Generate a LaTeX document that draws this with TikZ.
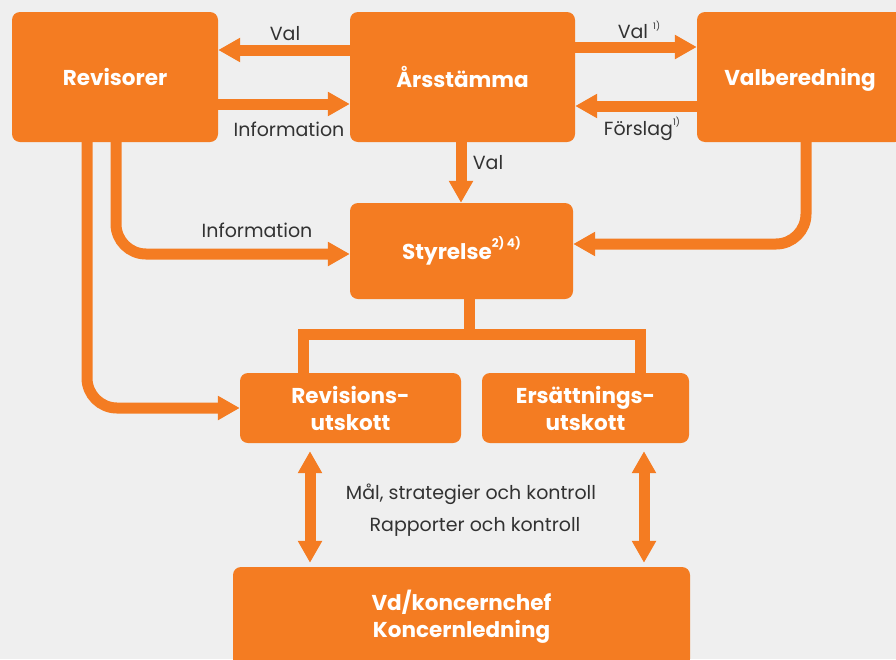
\documentclass[tikz,border=0pt]{standalone}
\usepackage{fontspec}
\setmainfont{Poppins}
\usetikzlibrary{arrows.meta}
\definecolor{org}{RGB}{244,124,34}
\definecolor{bgc}{RGB}{239,239,239}
\definecolor{txt}{RGB}{50,50,50}
\tikzset{
  box/.style={fill=org, rounded corners=8pt, inner sep=0pt, align=center,
    text=white, font=\fontsize{21.5}{27}\selectfont\bfseries},
  lbl/.style={text=txt, font=\fontsize{19}{22}\selectfont, inner sep=0pt},
  arr/.style={draw=org, line width=11pt, -{Triangle[width=23pt,length=22pt]}},
  darr/.style={draw=org, line width=11pt, {Triangle[width=23pt,length=22pt]}-{Triangle[width=23pt,length=22pt]}},
  ln/.style={draw=org, line width=11pt}
}
\begin{document}
\begin{tikzpicture}[x=1pt,y=-1pt]
\fill[bgc] (0,0) rectangle (896,659);
\useasboundingbox (0,0) rectangle (896,659);
\clip (0,0) rectangle (896,659);
% boxes
\node[box, minimum width=206pt, minimum height=130pt] (rev) at (115,77) {Revisorer};
\node[box, minimum width=225pt, minimum height=130pt] (ars) at (462.5,77) {Årsstämma};
\node[box, minimum width=206pt, minimum height=130pt] (val) at (800,77) {\raisebox{0pt}[\height][0pt]{Valberedning}};
\node[box, minimum width=223pt, minimum height=96pt] (sty) at (461.5,251) {Styrelse\raisebox{1.0ex}{\fontsize{12}{13}\selectfont 2) 4)}};
\node[box, minimum width=221pt, minimum height=70pt] (revu) at (350.5,408) {Revisions-\\utskott};
\node[box, minimum width=207pt, minimum height=70pt] (ers) at (585.5,408) {Ersättnings-\\utskott};
\node[box, minimum width=457pt, minimum height=100pt] (vd) at (461.5,617) {Vd/koncernchef\\Koncernledning};
% top arrows
\draw[arr] (ars.west |- 0,50) -- (rev.east |- 0,50);
\draw[arr] (rev.east |- 0,104) -- (ars.west |- 0,104);
\draw[arr] (ars.east |- 0,47) -- (val.west |- 0,47);
\draw[arr] (val.west |- 0,106) -- (ars.east |- 0,106);
\node[lbl] (l1) at (285,34) {Val};
\node[lbl] (l2) at (289,129) {Information};
\node[lbl] (l3) at (639,30) {Val \raisebox{0.9ex}{\fontsize{9}{10}\selectfont 1)}};
\node[lbl] (l4) at (642,129) {Förslag\raisebox{0.9ex}{\fontsize{9}{10}\selectfont 1)}};
% val down
\draw[arr] (ars.south -| 461,0) -- (sty.north -| 461,0);
\node[lbl] (l5) at (488,163) {Val};
% revisorer stems
\draw[arr, rounded corners=30pt] (rev.south -| 116,0) |- (sty.west |- 0,254);
\node[lbl] (l6) at (257,230) {Information};
\draw[arr, rounded corners=30pt] (rev.south -| 87,0) |- (revu.west);
% valberedning
\draw[arr, rounded corners=30pt] (val.south -| 806,0) |- (sty.east |- 0,244);
% styrelse tree
\draw[ln] (sty.south -| 469,0) -- (469,334);
\draw[ln] (revu.north -| 303,0) -- (303,334) -- (640,334) -- (ers.north -| 640,0);
% double arrows
\draw[darr, shorten <=8pt, shorten >=4pt] (revu.south -| 310,0) -- (vd.north -| 310,0);
\draw[darr, shorten <=8pt, shorten >=4pt] (ers.south -| 644,0) -- (vd.north -| 644,0);
\node[lbl] (l7) at (471,494) {Mål, strategier och kontroll};
\node[lbl] (l8) at (475,527) {Rapporter och kontroll};
\end{tikzpicture}
\end{document}
